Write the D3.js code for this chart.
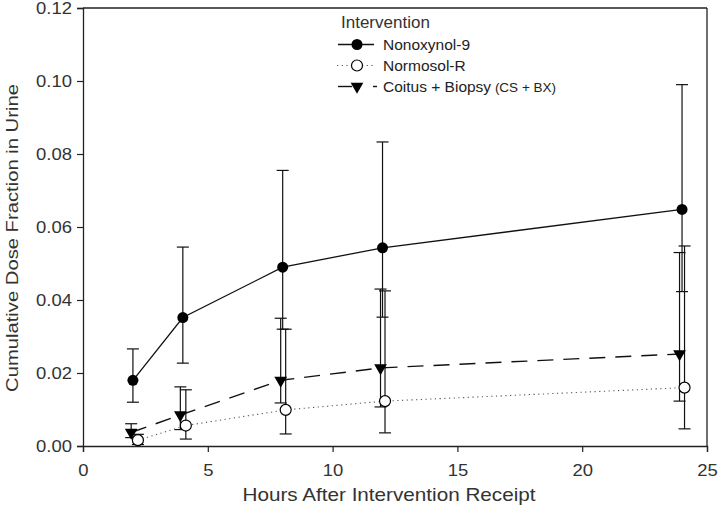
<!DOCTYPE html>
<html>
<head>
<meta charset="utf-8">
<script src="https://cdn.jsdelivr.net/npm/d3@7"></script>
<style>
  body { margin: 0; background: #fff; }
  svg { display: block; }
  text { font-family: "Liberation Sans", Arial, Helvetica, sans-serif; }
</style>
</head>
<body>
<svg id="chart" width="720" height="509"></svg>
<script>
// ---- Data ----
const xTicks = [0, 5, 10, 15, 20, 25];
const yTicks = [0, 0.02, 0.04, 0.06, 0.08, 0.10, 0.12];

// Nonoxynol-9
const n9Hours = [2, 4, 8, 12, 24];
const n9Mean  = [0.018, 0.0352, 0.049, 0.0543, 0.0648];
const n9Upper = [0.0266, 0.0545, 0.0755, 0.0833, 0.099];
const n9Lower = [0.0120, 0.0227, 0.0320, 0.0353, 0.0423];

// Normosol-R
const nrHours = [2.2, 4.12, 8.12, 12.1, 24.1];
const nrMean  = [0.0016, 0.0056, 0.0099, 0.0123, 0.0160];
const nrUpper = [0.0032, 0.0154, 0.0320, 0.0425, 0.0548];
const nrLower = [0.0004, 0.0019, 0.0033, 0.0036, 0.0047];

// Coitus + Biopsy
const cbHours = [1.93, 3.9, 7.92, 11.92, 23.9];
const cbMean  = [0.0037, 0.0085, 0.0180, 0.0214, 0.0252];
const cbUpper = [0.0061, 0.0162, 0.0350, 0.0430, 0.0530];
const cbLower = [0.0023, 0.0045, 0.0118, 0.0107, 0.0123];

const svg = d3.select("#chart");
const L = 83, R = 707, T = 8, B = 446;
const SX = 1.12; // horizontal stretch of tick labels in the reference

const x = d3.scaleLinear().domain([0, 25]).range([L, R]);
const y = d3.scaleLinear().domain([0, 0.12]).range([B, T]);

// frame (top & right)
svg.append("line").attr("x1", L).attr("x2", R).attr("y1", T).attr("y2", T)
  .attr("stroke", "#222").attr("stroke-width", 1.3);
svg.append("line").attr("x1", R).attr("x2", R).attr("y1", T).attr("y2", B)
  .attr("stroke", "#222").attr("stroke-width", 1.3);

// axes
const xAxis = svg.append("g").attr("transform", `translate(0,${B})`)
  .call(d3.axisBottom(x).tickValues(xTicks).tickSizeOuter(0).tickSize(6).tickPadding(12).tickFormat(d3.format("d")));
const yAxis = svg.append("g").attr("transform", `translate(${L},0)`)
  .call(d3.axisLeft(y).tickValues(yTicks).tickSizeOuter(0).tickSize(6).tickPadding(4).tickFormat(d3.format(".2f")));
[xAxis, yAxis].forEach(g => {
  g.select(".domain").attr("stroke", "#222").attr("stroke-width", 1.3);
  g.selectAll(".tick line").attr("stroke", "#222").attr("stroke-width", 1.2);
  g.selectAll(".tick text").attr("fill", "#333").style("font-size", "16.5px")
    .attr("transform", `scale(${SX},1)`);
});
yAxis.selectAll(".tick text").attr("x", -11 / SX);

// axis titles
svg.append("text").attr("transform", `translate(${(L + R) / 2 - 6},501) scale(1.15,1)`)
  .attr("text-anchor", "middle").attr("fill", "#333").style("font-size", "18px")
  .text("Hours After Intervention Receipt");
svg.append("text").attr("transform", `translate(18,238) rotate(-90) scale(1.19,1)`)
  .attr("text-anchor", "middle").attr("fill", "#333").style("font-size", "17px")
  .text("Cumulative Dose Fraction in Urine");

function rows(hours, mean, upper, lower) {
  return hours.map((h, i) => ({ h, m: mean[i], u: upper[i], l: lower[i] }));
}
const series = [
  { name: "n9", data: rows(n9Hours, n9Mean, n9Upper, n9Lower), dash: null, stroke: "#111", width: 1.3 },
  { name: "nr", data: rows(nrHours, nrMean, nrUpper, nrLower), dash: "1.2,3.5", stroke: "#555", width: 1.1 },
  { name: "cb", data: rows(cbHours, cbMean, cbUpper, cbLower), dash: "16,10", stroke: "#111", width: 1.4 }
];

const line = d3.line().x(d => x(d.h)).y(d => y(d.m));
const capW = 6;

// error bars
series.forEach(s => {
  const g = svg.append("g");
  s.data.forEach(d => {
    g.append("line").attr("x1", x(d.h)).attr("x2", x(d.h)).attr("y1", y(d.u)).attr("y2", y(d.l))
      .attr("stroke", "#111").attr("stroke-width", 1.2);
    [d.u, d.l].forEach(v => {
      g.append("line").attr("x1", x(d.h) - capW).attr("x2", x(d.h) + capW).attr("y1", y(v)).attr("y2", y(v))
        .attr("stroke", "#111").attr("stroke-width", 1.2);
    });
  });
});

// lines
series.forEach(s => {
  svg.append("path").datum(s.data).attr("d", line).attr("fill", "none")
    .attr("stroke", s.stroke).attr("stroke-width", s.width)
    .attr("stroke-dasharray", s.dash);
});

// markers
const tri = d3.symbol().type(d3.symbolTriangle).size(70);
function drawMarker(g, name, cx, cy) {
  if (name === "n9") {
    g.append("circle").attr("cx", cx).attr("cy", cy).attr("r", 5.5).attr("fill", "#000");
  } else if (name === "nr") {
    g.append("circle").attr("cx", cx).attr("cy", cy).attr("r", 5.5).attr("fill", "#fff")
      .attr("stroke", "#000").attr("stroke-width", 1.2);
  } else {
    g.append("path").attr("d", tri).attr("transform", `translate(${cx},${cy}) rotate(180)`).attr("fill", "#000");
  }
}
["cb", "nr", "n9"].forEach(n => {
  const s = series.find(q => q.name === n);
  const g = svg.append("g");
  s.data.forEach(d => drawMarker(g, n, x(d.h), y(d.m)));
});

// legend
const lg = svg.append("g");
lg.append("text").attr("x", 341).attr("y", 28).attr("fill", "#333")
  .style("font-size", "17px").text("Intervention");
const legendItems = [
  { name: "n9", label: "Nonoxynol-9" },
  { name: "nr", label: "Normosol-R" },
  { name: "cb", label: "Coitus + Biopsy", small: "(CS + BX)" }
];
legendItems.forEach((it, i) => {
  const yy = 44.5 + i * 21;
  if (it.name === "n9") {
    lg.append("line").attr("x1", 338).attr("x2", 374).attr("y1", yy).attr("y2", yy)
      .attr("stroke", "#111").attr("stroke-width", 1.4);
  } else if (it.name === "nr") {
    [[337, 349], [362, 374]].forEach(([a, b]) =>
      lg.append("line").attr("x1", a).attr("x2", b).attr("y1", yy).attr("y2", yy)
        .attr("stroke", "#555").attr("stroke-width", 1.1).attr("stroke-dasharray", "1.2,3.5"));
  } else {
    lg.append("line").attr("x1", 338).attr("x2", 352).attr("y1", yy).attr("y2", yy)
      .attr("stroke", "#111").attr("stroke-width", 1.4);
    lg.append("line").attr("x1", 373).attr("x2", 377).attr("y1", yy).attr("y2", yy)
      .attr("stroke", "#111").attr("stroke-width", 1.4);
  }
  drawMarker(lg, it.name, 357, yy);
  const t = lg.append("text").attr("x", 383).attr("y", yy + 5.5)
    .attr("fill", "#222").style("font-size", "15.5px").text(it.label);
  if (it.small) {
    t.append("tspan").style("font-size", "13.5px").text(" " + it.small);
  }
});
</script>
</body>
</html>
